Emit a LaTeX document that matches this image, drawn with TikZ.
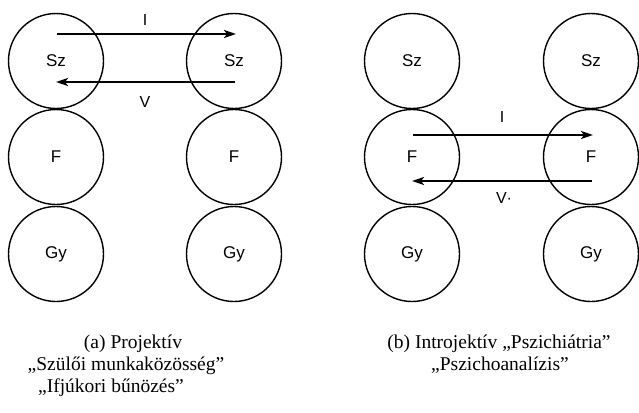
\documentclass[tikz,border=0pt]{standalone}
\usepackage{fontspec}
\setmainfont{Liberation Serif}
\newfontfamily\capfont{Liberation Serif}
\newfontfamily\lblfont{Liberation Sans}
\usetikzlibrary{arrows.meta}
\begin{document}
\begin{tikzpicture}[x=1pt,y=-1pt,
  ball/.style={circle,draw,line width=1.4pt,minimum size=95pt,inner sep=0pt,font=\lblfont\fontsize{17}{17}\selectfont},
  flow/.style={line width=2.4pt,-{Stealth[length=12pt,width=8pt,inset=3pt]}},
  lbl/.style={font=\lblfont\fontsize{16}{16}\selectfont,inner sep=0pt},
  captext/.style={font=\capfont\fontsize{19.5}{19.5}\selectfont,inner sep=0pt,anchor=base}]
\useasboundingbox (0,0) rectangle (639,412);
% panel a
\node[ball] (aS1) at (56,61) {Sz};
\node[ball] (aF1) at (56,157) {F};
\node[ball] (aG1) at (56,254) {Gy};
\node[ball] (aS2) at (234,61) {Sz};
\node[ball] (aF2) at (234,157) {F};
\node[ball] (aG2) at (234,254) {Gy};
\coordinate (aIs) at (57,34);
\coordinate (aIe) at (236,34);
\coordinate (aVs) at (235,82);
\coordinate (aVe) at (56,82);
\draw[flow] (aIs) -- (aIe);
\draw[flow] (aVs) -- (aVe);
\node[lbl] (aI) at (145,20) {I};
\node[lbl] (aV) at (145,102) {V};
% panel b
\node[ball] (bS1) at (412,61) {Sz};
\node[ball] (bF1) at (412,157) {F};
\node[ball] (bG1) at (412,254) {Gy};
\node[ball] (bS2) at (591,61) {Sz};
\node[ball] (bF2) at (591,157) {F};
\node[ball] (bG2) at (591,254) {Gy};
\coordinate (bIs) at (413,135);
\coordinate (bIe) at (593,135);
\coordinate (bVs) at (592,181);
\coordinate (bVe) at (412,181);
\draw[flow] (bIs) -- (bIe);
\draw[flow] (bVs) -- (bVe);
\node[lbl] (bI) at (502,117) {I};
\node[lbl] (bV) at (504,198) {V·};
% captions
\node[captext] (ca1) at (133,348) {(a) Projektív};
\node[captext] (ca2) at (126,370) {„Szülői munkaközösség”};
\node[captext] (ca3) at (111,392) {„Ifjúkori bűnözés”};
\node[captext] (cb1) at (499,348) {(b) Introjektív „Pszichiátria”};
\node[captext] (cb2) at (500,370) {„Pszichoanalízis”};
\end{tikzpicture}
\end{document}
